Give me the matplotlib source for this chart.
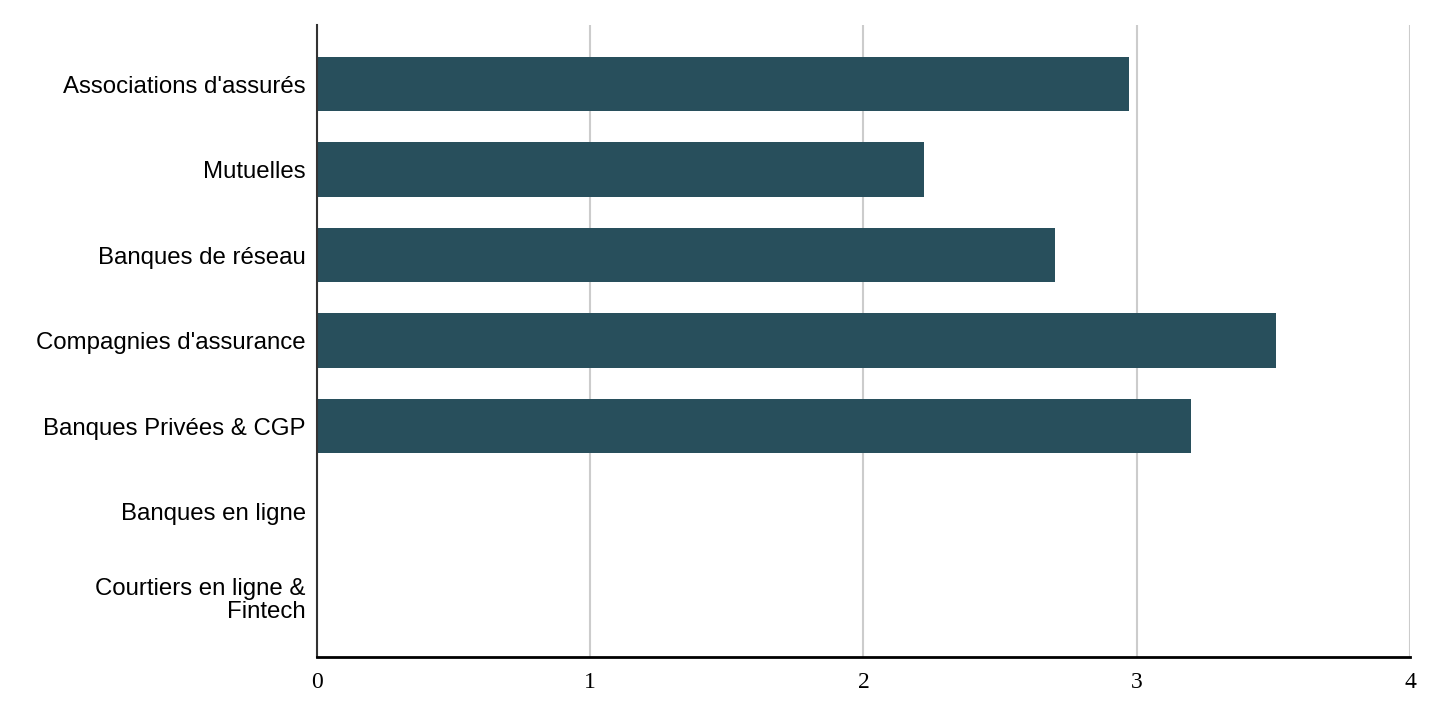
import matplotlib.pyplot as plt

categories = [
    "Associations d'assurés",
    "Mutuelles",
    "Banques de réseau",
    "Compagnies d'assurance",
    "Banques Privées & CGP",
    "Banques en ligne",
    "Courtiers en ligne &\nFintech",
]
values = [2.97, 2.22, 2.70, 3.51, 3.2, 0, 0]
x_ticks = [0, 1, 2, 3, 4]

bar_color = "#284f5c"

fig = plt.figure(figsize=(14.42, 7.10), dpi=100)
ax = fig.add_axes([0.2198, 0.0746, 0.7580, 0.8902])

ypos = list(range(len(categories)))
ax.barh(ypos, values, height=0.64, color=bar_color, zorder=3)

ax.set_xlim(0, 4)
ax.set_ylim(6.70, -0.69)
ax.set_xticks(x_ticks)
ax.set_xticklabels([str(t) for t in x_ticks], fontfamily="Liberation Serif", fontsize=17)
ax.set_yticks(ypos)
ax.set_yticklabels(categories, fontfamily="Liberation Sans", fontsize=17.3, linespacing=1.08)
ax.tick_params(axis="both", length=0)
ax.tick_params(axis="x", pad=11)
ax.tick_params(axis="y", pad=8)

ax.grid(axis="x", color="#cccccc", linewidth=1.5, zorder=0)
ax.spines["top"].set_visible(False)
ax.spines["right"].set_visible(False)
ax.spines["left"].set_color("#333333")
ax.spines["left"].set_linewidth(1.5)
ax.spines["bottom"].set_color("black")
ax.spines["bottom"].set_linewidth(2)
ax.spines["left"].set_zorder(4)
ax.spines["bottom"].set_zorder(4)

fig.savefig("out.png", dpi=100)
